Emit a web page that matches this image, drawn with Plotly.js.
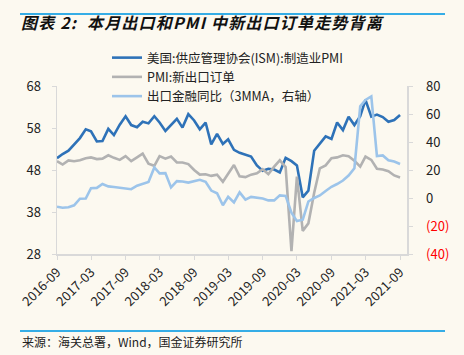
<!DOCTYPE html>
<html>
<head>
<meta charset="utf-8">
<script src="https://cdn.plot.ly/plotly-3.0.1.min.js"></script>
<style>
html,body{margin:0;padding:0;background:#fcf9f0;}
#chart{width:464px;height:355px;}
.gtitle{letter-spacing:1.2px;}
</style>
</head>
<body>
<div id="chart"></div>
<script>
// Months 2016-09 .. 2021-09
var months = [
 "2016-09-01","2016-10-01","2016-11-01","2016-12-01",
 "2017-01-01","2017-02-01","2017-03-01","2017-04-01","2017-05-01","2017-06-01","2017-07-01","2017-08-01","2017-09-01","2017-10-01","2017-11-01","2017-12-01",
 "2018-01-01","2018-02-01","2018-03-01","2018-04-01","2018-05-01","2018-06-01","2018-07-01","2018-08-01","2018-09-01","2018-10-01","2018-11-01","2018-12-01",
 "2019-01-01","2019-02-01","2019-03-01","2019-04-01","2019-05-01","2019-06-01","2019-07-01","2019-08-01","2019-09-01","2019-10-01","2019-11-01","2019-12-01",
 "2020-01-01","2020-02-01","2020-03-01","2020-04-01","2020-05-01","2020-06-01","2020-07-01","2020-08-01","2020-09-01","2020-10-01","2020-11-01","2020-12-01",
 "2021-01-01","2021-02-01","2021-03-01","2021-04-01","2021-05-01","2021-06-01","2021-07-01","2021-08-01","2021-09-01"
];
// 美国:供应管理协会(ISM):制造业PMI (left axis)
var ismPMI = [
 50.8,51.8,52.6,54.0,
 55.6,57.7,57.2,54.8,54.9,57.8,56.3,58.8,60.8,58.7,58.2,59.5,
 59.1,60.8,59.3,57.3,58.7,60.2,58.1,61.3,59.8,57.7,59.3,54.1,
 56.6,54.2,55.3,52.8,52.1,51.7,51.2,49.1,47.8,48.3,48.1,47.4,
 50.9,50.1,49.1,41.5,43.1,52.6,54.2,56.0,55.4,59.3,57.5,60.7,
 58.7,60.8,64.7,60.7,61.2,60.6,59.5,59.9,61.1
];
// PMI:新出口订单 (left axis)
var newExportOrders = [
 50.1,49.3,50.3,50.1,
 50.3,50.8,51.0,50.6,50.7,51.5,50.9,50.4,51.3,50.1,51.0,51.9,
 49.5,49.0,51.3,50.7,51.2,49.8,49.8,49.4,48.0,46.9,47.0,46.6,
 46.9,45.2,47.1,49.2,46.5,46.3,46.9,47.2,48.2,47.0,48.8,50.3,
 48.7,28.7,46.4,33.5,35.3,42.6,48.4,49.1,50.8,51.0,51.5,51.3,
 50.2,48.8,51.2,50.4,48.3,48.1,47.7,46.7,46.2
];
// 出口金融同比(3MMA, 右轴)
var exportYoY3MMA = [
 -6.2,-7.0,-6.6,-5.2,
 -0.5,-0.4,7.0,7.2,10.0,8.3,7.8,7.3,6.8,6.3,8.8,10.0,
 11.4,21.8,17.6,17.8,7.6,12.0,11.8,11.0,12.0,13.0,11.5,5.3,
 3.4,-5.2,0.9,-3.2,4.0,-1.2,0.8,0.2,-0.3,-1.7,-1.7,1.9,
 1.5,-10.5,-16.5,-15.5,-2.5,0.0,1.8,5.0,8.0,10.0,12.5,16.0,
 21.3,65.5,70.0,72.6,30.0,30.4,27.0,26.0,24.3
];
var leftTicks = [28,38,48,58,68];
var rightTicks = [-40,-20,0,20,40,60,80];
var rightTickText = ['<span style="color:#ff0000">(40)</span>','<span style="color:#ff0000">(20)</span>','0','20','40','60','80'];
var names = ['美国:供应管理协会(ISM):制造业PMI','PMI:新出口订单','出口金融同比（3MMA，右轴）'];

var W = 464, H = 355;
var mL = 57, mR = 57, mT = 86, mB = 101;
var pw = W - mL - mR, ph = H - mT - mB;
function px(x){ return (x - mL) / pw; }
function py(y){ return (H - mB - y) / ph; }

var fontFam = '"Noto Sans CJK SC", "Noto Sans", sans-serif';

var traces = [
 {x: months, y: ismPMI, name: names[0], type: 'scatter', mode: 'lines',
  line: {color: '#2e72b8', width: 2.6}, yaxis: 'y'},
 {x: months, y: newExportOrders, name: names[1], type: 'scatter', mode: 'lines',
  line: {color: '#b2b2b2', width: 2.6}, yaxis: 'y'},
 {x: months, y: exportYoY3MMA, name: names[2], type: 'scatter', mode: 'lines',
  line: {color: '#9cc4ea', width: 2.6}, yaxis: 'y2'}
];

var axisCol = '#d9d9d9';
var layout = {
 width: W, height: H,
 paper_bgcolor: '#fcf9f0', plot_bgcolor: '#fcf9f0',
 margin: {l: mL, r: mR, t: mT, b: mB, pad: 0},
 font: {family: fontFam, color: '#222', size: 13},
 title: {text: '图表 2:  本月出口和PMI 中新出口订单走势背离', x: 21/W, xref: 'container', xanchor: 'left',
  y: 1 - 23/H, yref: 'container', yanchor: 'middle',
  font: {family: fontFam, size: 16, color: '#111', weight: 'bold', style: 'italic'}},
 showlegend: true,
 legend: {x: px(107), xanchor: 'left', y: py(43), yanchor: 'top', bgcolor: 'rgba(0,0,0,0)',
  font: {size: 12.5, color: '#222'}, tracegroupgap: 0, itemwidth: 30},
 xaxis: {type: 'date', range: ['2016-09-01', '2021-10-08'], tick0: '2016-09-01', dtick: 'M6',
  tickformat: '%Y-%m', tickangle: -45, ticks: 'outside', ticklen: 4, tickcolor: axisCol,
  showline: true, linecolor: axisCol, linewidth: 1.5, showgrid: false, zeroline: false,
  tickfont: {size: 13, color: '#222'}, fixedrange: true},
 yaxis: {range: [28, 68], tickvals: leftTicks, ticks: 'outside', ticklen: 4, tickcolor: axisCol,
  showline: true, linecolor: axisCol, linewidth: 1.5, showgrid: false, zeroline: false,
  tickfont: {size: 13, color: '#222'}, ticklabelstandoff: 8},
 yaxis2: {range: [-40, 80], tickvals: rightTicks, ticktext: rightTickText, overlaying: 'y', side: 'right',
  ticks: 'outside', ticklen: 4, tickcolor: axisCol, showline: true, linecolor: axisCol, linewidth: 1.5,
  showgrid: false, zeroline: false, tickfont: {size: 13, color: '#222'}, ticklabelstandoff: 11},
 shapes: [
  {type: 'line', xref: 'paper', yref: 'paper', x0: px(20), x1: px(445), y0: py(14), y1: py(14),
   line: {color: '#35ade6', width: 2}},
  {type: 'line', xref: 'paper', yref: 'paper', x0: px(20), x1: px(445), y0: py(331), y1: py(331),
   line: {color: '#35ade6', width: 2}}
 ],
 annotations: [
  {text: '来源：海关总署，Wind，国金证券研究所', xref: 'paper', yref: 'paper', x: px(20), y: py(341),
   xanchor: 'left', yanchor: 'middle', showarrow: false, font: {size: 12, color: '#222', family: fontFam}}
 ]
};
Plotly.newPlot('chart', traces, layout, {displayModeBar: false, staticPlot: true});
</script>
</body>
</html>
